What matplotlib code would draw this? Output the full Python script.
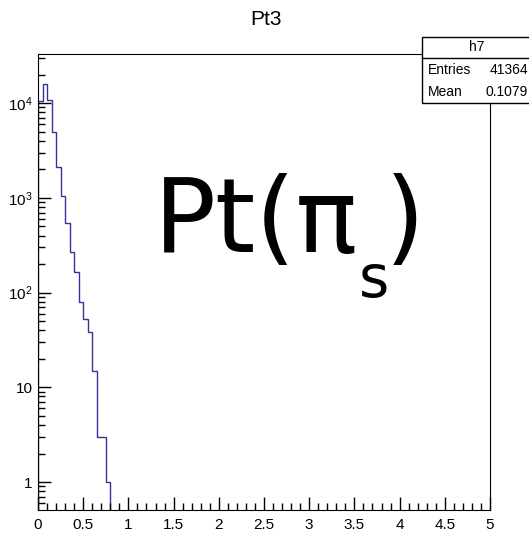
import numpy as np
import matplotlib.pyplot as plt
from matplotlib.patches import Rectangle
from matplotlib.ticker import FixedLocator, LogLocator, FuncFormatter, MultipleLocator

#Font
plt.rcParams['font.family']=['Liberation Sans Narrow','Liberation Sans','DejaVu Sans']

#Data (bin width 0.05)
bin_lo=[0.0,0.05,0.1,0.15,0.2,0.25,0.3,0.35,0.4,0.45,0.5,0.55,0.6,0.65,0.7,0.75]
counts=[10500,16000,10800,4900,2100,1040,540,270,165,79,52,38,15,3,3,1]
bin_width=0.05
hist_name='h7'
entries='41364'
mean='0.1079'
title='Pt3'
x_ticks=[0,0.5,1,1.5,2,2.5,3,3.5,4,4.5,5]
x_labels=['0','0.5','1','1.5','2','2.5','3','3.5','4','4.5','5']

edges=list(bin_lo)+[bin_lo[-1]+bin_width]

#Figure
fig=plt.figure(figsize=(5.29,5.33),dpi=100)
ax=fig.add_axes([0.0718,0.0432,0.8545,0.8555])
ax.stairs(counts,edges,baseline=0.507,color='#333399',linewidth=1.0)
ax.set_yscale('log')
ax.set_xlim(0,5)
ax.set_ylim(0.507,33000)

#Axis style (ROOT-like)
ax.xaxis.set_major_locator(FixedLocator(x_ticks))
ax.xaxis.set_minor_locator(MultipleLocator(0.1))
ax.set_xticklabels(x_labels)
ax.yaxis.set_major_locator(LogLocator(base=10,numticks=10))
ax.yaxis.set_minor_locator(LogLocator(base=10,subs=np.arange(2,10),numticks=20))
def ylab(v,pos):
    if v<=1.01 and v>=0.99:
        return '1'
    if abs(v-10)<0.1:
        return '10'
    return r'$\mathregular{10^{%d}}$'%int(round(np.log10(v)))
ax.yaxis.set_major_formatter(FuncFormatter(ylab))
ax.tick_params(axis='both',which='major',direction='in',length=9.5,width=1.0,labelsize=11,top=False,right=False)
ax.tick_params(axis='both',which='minor',direction='in',length=5,width=1.0,top=False,right=False)
ax.tick_params(axis='x',pad=6)
ax.tick_params(axis='y',pad=4)

#Title
fig.text(0.503,0.963,title,ha='center',va='center',fontsize=15)

#Stats box
fig.patches.append(Rectangle((0.797,0.806),0.25,0.124,transform=fig.transFigure,facecolor='white',edgecolor='black',linewidth=1.0,zorder=5))
fig.lines.append(plt.Line2D([0.797,1.0],[0.8906,0.8906],transform=fig.transFigure,color='black',linewidth=1.0,zorder=6))
fig.text(0.901,0.911,hist_name,ha='center',va='center',fontsize=10,zorder=7)
fig.text(0.809,0.8687,'Entries',ha='left',va='center',fontsize=10,zorder=7)
fig.text(0.998,0.8687,entries,ha='right',va='center',fontsize=10,zorder=7)
fig.text(0.809,0.8274,'Mean',ha='left',va='center',fontsize=10,zorder=7)
fig.text(0.998,0.8274,mean,ha='right',va='center',fontsize=10,zorder=7)

#Big label Pt(pi_s), subscript set low like the original
fig.text(0.291,0.527,'Pt(π',ha='left',va='baseline',fontsize=74,family='DejaVu Sans')
fig.text(0.679,0.443,'s',ha='left',va='baseline',fontsize=42,family='DejaVu Sans')
fig.text(0.728,0.527,')',ha='left',va='baseline',fontsize=74,family='DejaVu Sans')

fig.savefig('out.png',dpi=100)
